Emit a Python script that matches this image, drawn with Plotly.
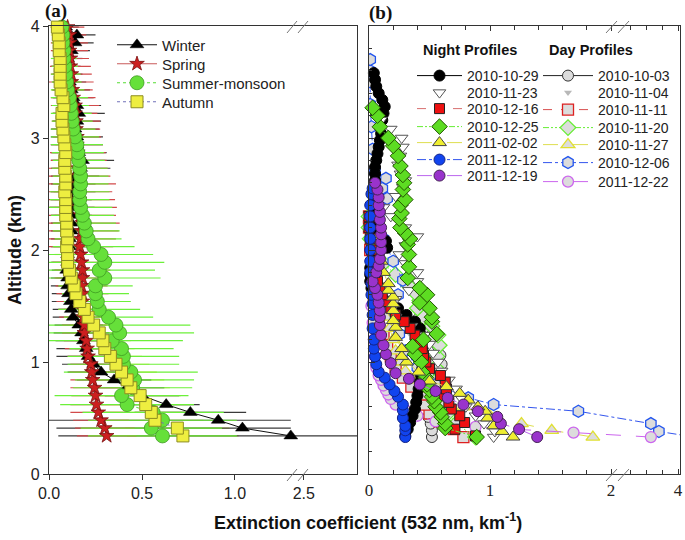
import plotly.graph_objects as go

# ---------------- Panel (a): seasonal mean profiles ----------------
ALT_A = [0.34, 0.41, 0.48, 0.55, 0.62, 0.70, 0.77, 0.84, 0.91, 0.98,
         1.05, 1.12, 1.19, 1.26, 1.33, 1.40, 1.47, 1.54, 1.61, 1.68,
         1.75, 1.82, 1.89, 1.96, 2.03, 2.10, 2.17, 2.24, 2.31, 2.38,
         2.45, 2.52, 2.59, 2.66, 2.73, 2.80, 2.87, 2.94, 3.01, 3.08,
         3.15, 3.22, 3.29, 3.36, 3.43, 3.50, 3.57, 3.64, 3.71, 3.78,
         3.85, 3.92, 3.99]

WINTER = [2.30, 1.04, 0.91, 0.76, 0.63, 0.50, 0.42, 0.35, 0.28, 0.24,
          0.21, 0.20, 0.185, 0.175, 0.16, 0.13, 0.12, 0.115, 0.105, 0.10,
          0.10, 0.095, 0.10, 0.10, 0.11, 0.11, 0.12, 0.12, 0.12, 0.125,
          0.12, 0.13, 0.13, 0.14, 0.17, 0.18, 0.16, 0.15, 0.15, 0.14,
          0.15, 0.16, 0.15, 0.13, 0.12, 0.11, 0.10, 0.09, 0.10, 0.12,
          0.14, 0.15, 0.09]
WINTER_ERR = [2.25, 1.00, 0.95, 0.30, 0.18, 0.20, 0.20, 0.20, 0.18, 0.17,
              0.17, 0.16, 0.15, 0.15, 0.13, 0.11, 0.10, 0.10, 0.09, 0.09,
              0.09, 0.08, 0.09, 0.09, 0.10, 0.10, 0.11, 0.11, 0.11, 0.12,
              0.11, 0.12, 0.12, 0.13, 0.16, 0.17, 0.15, 0.14, 0.14, 0.13,
              0.13, 0.14, 0.13, 0.11, 0.10, 0.09, 0.08, 0.08, 0.08, 0.10,
              0.10, 0.10, 0.07]

SPRING = [0.31, 0.30, 0.28, 0.265, 0.255, 0.25, 0.245, 0.235, 0.23, 0.225,
          0.21, 0.205, 0.20, 0.19, 0.19, 0.185, 0.18, 0.18, 0.18, 0.175,
          0.18, 0.18, 0.175, 0.17, 0.165, 0.17, 0.175, 0.18, 0.17, 0.165,
          0.165, 0.16, 0.16, 0.16, 0.155, 0.16, 0.155, 0.15, 0.15, 0.145,
          0.145, 0.14, 0.14, 0.13, 0.125, 0.12, 0.12, 0.115, 0.115, 0.11,
          0.11, 0.11, 0.10]
SPRING_ERR = [0.16, 0.16, 0.15, 0.15, 0.14, 0.13, 0.13, 0.12, 0.12, 0.11,
              0.11, 0.12, 0.12, 0.12, 0.12, 0.13, 0.13, 0.14, 0.14, 0.14,
              0.15, 0.15, 0.16, 0.17, 0.18, 0.19, 0.20, 0.20, 0.19, 0.20,
              0.19, 0.18, 0.20, 0.17, 0.16, 0.15, 0.15, 0.14, 0.13, 0.13,
              0.13, 0.12, 0.13, 0.12, 0.11, 0.12, 0.11, 0.11, 0.10, 0.10,
              0.10, 0.09, 0.09]

SUMMER = [0.61, 0.55, 0.61, 0.56, 0.42, 0.39, 0.45, 0.46, 0.44, 0.40,
          0.40, 0.39, 0.34, 0.38, 0.36, 0.32, 0.27, 0.26, 0.25, 0.25,
          0.30, 0.27, 0.30, 0.28, 0.24, 0.21, 0.20, 0.19, 0.18, 0.17,
          0.165, 0.165, 0.17, 0.17, 0.165, 0.16, 0.155, 0.15, 0.14, 0.13,
          0.125, 0.12, 0.115, 0.11, 0.10, 0.095, 0.09, 0.085, 0.08, 0.08,
          0.075, 0.075, 0.07]
SUMMER_ERR = [0.40, 0.38, 0.40, 0.38, 0.36, 0.36, 0.32, 0.32, 0.36, 0.30,
              0.30, 0.28, 0.38, 0.40, 0.40, 0.24, 0.22, 0.18, 0.18, 0.20,
              0.30, 0.30, 0.32, 0.28, 0.22, 0.18, 0.18, 0.17, 0.17, 0.17,
              0.16, 0.16, 0.15, 0.15, 0.15, 0.14, 0.14, 0.14, 0.13, 0.12,
              0.11, 0.11, 0.10, 0.10, 0.09, 0.08, 0.08, 0.07, 0.07, 0.06,
              0.06, 0.05, 0.05]

AUTUMN = [0.72, 0.69, 0.57, 0.55, 0.52, 0.49, 0.44, 0.42, 0.39, 0.36,
          0.33, 0.30, 0.29, 0.27, 0.24, 0.21, 0.19, 0.165, 0.145, 0.135,
          0.12, 0.11, 0.10, 0.10, 0.095, 0.10, 0.095, 0.095, 0.09, 0.09,
          0.09, 0.085, 0.09, 0.09, 0.085, 0.085, 0.09, 0.085, 0.08, 0.075,
          0.07, 0.07, 0.08, 0.075, 0.065, 0.06, 0.06, 0.06, 0.06, 0.055,
          0.055, 0.05, 0.045]
AUTUMN_ERR = [0.30, 0.28, 0.26, 0.25, 0.24, 0.22, 0.21, 0.20, 0.19, 0.18,
              0.17, 0.16, 0.15, 0.14, 0.13, 0.12, 0.11, 0.10, 0.09, 0.09,
              0.08, 0.08, 0.08, 0.07, 0.07, 0.07, 0.07, 0.07, 0.06, 0.06,
              0.06, 0.06, 0.06, 0.06, 0.06, 0.06, 0.06, 0.05, 0.05, 0.05,
              0.05, 0.05, 0.05, 0.05, 0.05, 0.04, 0.04, 0.04, 0.04, 0.04,
              0.04, 0.04, 0.04]

TICKS_A = [0.0, 0.5, 1.0, 2.5]
TICKTEXT_A = ["0.0", "0.5", "1.0", "2.5"]
ALT_TICKS = [0, 1, 2, 3, 4]

# ---------------- Panel (b): individual profiles ----------------
N1029_ALT = [0.34, 0.40, 0.46, 0.52, 0.58, 0.64, 0.70, 0.76, 0.82, 0.88,
             0.94, 1.00, 1.06, 1.12, 1.18, 1.24, 1.30, 1.36, 1.42, 1.48,
             1.54, 1.60, 1.66, 1.72, 1.78, 1.84, 1.90, 1.96, 2.02, 2.08,
             2.14, 2.20, 2.26, 2.32, 2.38, 2.44, 2.50, 2.56, 2.62, 2.68,
             2.74, 2.80, 2.86, 2.92, 2.98, 3.04, 3.10, 3.16, 3.22, 3.28,
             3.34, 3.40, 3.46, 3.52, 3.58]
N1029_EXT = [0.30, 0.32, 0.34, 0.36, 0.38, 0.39, 0.40, 0.41, 0.42, 0.43,
             0.44, 0.45, 0.45, 0.44, 0.44, 0.43, 0.42, 0.38, 0.31, 0.24,
             0.15, 0.08, 0.02, 0.01, 0.01, 0.01, 0.02, 0.08, 0.15, 0.14,
             0.06, 0.04, 0.04, 0.04, 0.05, 0.05, 0.04, 0.05, 0.05, 0.05,
             0.05, 0.06, 0.07, 0.08, 0.09, 0.10, 0.09, 0.11, 0.12, 0.13,
             0.11, 0.08, 0.06, 0.05, 0.04]

N1123_ALT = [0.33, 0.38, 0.45, 0.52, 0.60, 0.68, 0.76, 0.84, 0.92, 1.00,
             1.08, 1.16, 1.24, 1.32, 1.40, 1.48, 1.56, 1.64, 1.72, 1.80,
             1.88, 1.96, 2.04, 2.12, 2.20, 2.30, 2.38, 2.48, 2.56, 2.62,
             2.68, 2.76, 2.84, 2.92, 3.00, 3.08, 3.16]
N1123_EXT = [1.03, 1.04, 0.95, 0.88, 0.80, 0.76, 0.72, 0.66, 0.60, 0.57,
             0.53, 0.50, 0.46, 0.35, 0.22, 0.19, 0.22, 0.33, 0.40, 0.40,
             0.30, 0.25, 0.30, 0.40, 0.30, 0.18, 0.12, 0.22, 0.28, 0.30,
             0.26, 0.24, 0.26, 0.28, 0.27, 0.18, 0.10]

N1216_ALT = [0.34, 0.40, 0.46, 0.52, 0.58, 0.64, 0.70, 0.76, 0.82, 0.88,
             0.94, 1.00, 1.06, 1.12, 1.18, 1.24, 1.30, 1.36, 1.42, 1.48,
             1.54, 1.60, 1.66, 1.72, 1.80, 1.90, 2.00, 2.10, 2.20, 2.30]
N1216_EXT = [0.88, 0.71, 0.79, 0.75, 0.68, 0.66, 0.62, 0.64, 0.63, 0.59,
             0.50, 0.47, 0.45, 0.44, 0.41, 0.38, 0.34, 0.29, 0.22, 0.18,
             0.14, 0.11, 0.09, 0.07, 0.05, 0.03, 0.02, 0.01, 0.00, 0.00]

N1225_ALT = [0.33, 0.41, 0.45, 0.51, 0.55, 0.60, 0.65, 0.69, 0.75, 0.80,
             0.86, 0.91, 1.00, 1.07, 1.14, 1.20, 1.25, 1.36, 1.40, 1.48,
             1.53, 1.60, 1.66, 1.75, 1.85, 1.96, 2.05, 2.10, 2.15, 2.20,
             2.28, 2.33, 2.40, 2.45, 2.54, 2.60, 2.67, 2.75, 2.84, 2.93,
             3.00, 3.10, 3.20, 3.27]
N1225_EXT = [0.89, 0.63, 0.63, 0.60, 0.59, 0.55, 0.54, 0.52, 0.50, 0.48,
             0.47, 0.44, 0.43, 0.38, 0.36, 0.45, 0.56, 0.52, 0.52, 0.50,
             0.42, 0.48, 0.42, 0.32, 0.33, 0.33, 0.32, 0.34, 0.30, 0.26,
             0.25, 0.27, 0.26, 0.30, 0.28, 0.29, 0.28, 0.26, 0.24, 0.20,
             0.16, 0.09, 0.07, 0.03]

N0202_ALT = [0.33, 0.38, 0.43, 0.50, 0.56, 0.60, 0.66, 0.72, 0.78, 0.83,
             0.91, 1.00, 1.05, 1.12, 1.22, 1.31, 1.37, 1.46, 1.52, 1.58,
             1.64, 1.70, 1.80, 1.90, 2.00, 2.10]
N0202_EXT = [1.19, 1.10, 1.03, 0.98, 0.96, 0.90, 0.82, 0.75, 0.64, 0.50,
             0.41, 0.31, 0.27, 0.27, 0.22, 0.22, 0.20, 0.20, 0.20, 0.20,
             0.16, 0.16, 0.12, 0.10, 0.08, 0.06]

N1212_ALT = [0.33, 0.39, 0.43, 0.50, 0.57, 0.62, 0.69, 0.74, 0.80, 0.86,
             0.91, 0.98, 1.05, 1.12, 1.20, 1.30, 1.42, 1.52, 1.60, 1.70,
             1.80, 1.90, 2.00, 2.10, 2.20, 2.30, 2.40, 2.50, 2.55]
N1212_EXT = [0.30, 0.30, 0.30, 0.28, 0.28, 0.28, 0.24, 0.21, 0.17, 0.13,
             0.08, 0.06, 0.05, 0.04, 0.04, 0.03, 0.03, 0.03, 0.02, 0.02,
             0.01, 0.01, 0.01, 0.01, 0.01, 0.01, 0.01, 0.02, 0.03]

N1219_ALT = [0.33, 0.40, 0.45, 0.51, 0.56, 0.62, 0.68, 0.74, 0.80, 0.85,
             0.90, 0.99, 1.07, 1.15, 1.24, 1.33, 1.40, 1.46, 1.53, 1.60,
             1.66, 1.72, 1.80, 1.86, 1.92, 2.00, 2.07, 2.14, 2.20, 2.27,
             2.34, 2.40, 2.47, 2.54, 2.60]
N1219_EXT = [1.39, 1.24, 1.09, 1.06, 0.90, 0.78, 0.65, 0.55, 0.42, 0.33,
             0.22, 0.18, 0.14, 0.12, 0.10, 0.09, 0.09, 0.09, 0.08, 0.07,
             0.05, 0.03, 0.06, 0.08, 0.09, 0.10, 0.10, 0.10, 0.10, 0.09,
             0.09, 0.08, 0.08, 0.07, 0.05]

D1003_ALT = [0.33, 0.39, 0.45, 0.51, 0.58, 0.66, 0.74, 0.82, 0.90, 0.98,
             1.06, 1.14, 1.22, 1.30, 1.38]
D1003_EXT = [0.52, 0.52, 0.51, 0.49, 0.50, 0.52, 0.54, 0.56, 0.58, 0.60,
             0.59, 0.57, 0.52, 0.45, 0.40]

D1104_ALT = [0.36, 0.46, 0.56, 0.66, 0.76, 0.86, 0.96, 1.06, 1.16, 1.26]
D1104_EXT = [0.75, 0.70, 0.62, 0.55, 0.50, 0.46, 0.42, 0.40, 0.36, 0.33]

D1111_ALT = [0.33, 0.40, 0.47, 0.54, 0.62, 0.71, 0.78, 0.86, 0.95, 1.05,
             1.15, 1.25, 1.40, 1.60, 1.80, 2.00, 2.20, 2.30]
D1111_EXT = [0.78, 0.70, 0.58, 0.50, 0.46, 0.45, 0.35, 0.28, 0.22, 0.18,
             0.15, 0.12, 0.08, 0.04, 0.02, 0.01, 0.00, 0.00]

D1120_ALT = [0.33, 0.45, 0.55, 0.65, 0.75, 0.85, 0.95, 1.05, 1.15, 1.24,
             1.32, 1.40, 1.48, 1.55, 1.62, 1.69, 1.78, 1.88, 1.98, 2.10,
             2.20, 2.30]
D1120_EXT = [0.88, 0.72, 0.66, 0.62, 0.60, 0.57, 0.55, 0.56, 0.58, 0.57,
             0.52, 0.45, 0.40, 0.42, 0.38, 0.32, 0.22, 0.12, 0.04, 0.01,
             0.00, 0.00]

D1127_ALT = [0.33, 0.39, 0.45, 0.52, 0.60, 0.68, 0.76, 0.84, 0.92, 1.00,
             1.10, 1.20, 1.30, 1.40, 1.50, 1.60]
D1127_EXT = [1.85, 1.51, 1.26, 1.00, 0.78, 0.58, 0.45, 0.36, 0.30, 0.26,
             0.22, 0.20, 0.17, 0.14, 0.12, 0.10]

D1206_ALT = [0.33, 0.38, 0.45, 0.56, 0.62, 0.68, 0.80, 0.95, 1.10, 1.25,
             1.40, 1.60, 1.73, 1.90, 2.10, 2.30, 2.46, 2.55, 2.64, 2.70,
             2.90, 3.10, 3.30, 3.50, 3.60, 3.70]
D1206_EXT = [4.50, 3.40, 3.15, 1.73, 1.03, 0.82, 0.55, 0.40, 0.30, 0.25,
             0.22, 0.24, 0.28, 0.20, 0.12, 0.08, 0.15, 0.11, 0.14, 0.05,
             0.03, 0.02, 0.01, 0.01, 0.01, 0.01]

D1222_ALT = [0.33, 0.37, 0.42, 0.47, 0.52, 0.57, 0.62, 0.67, 0.71, 0.75,
             0.79, 0.84, 0.88, 0.95, 1.05, 1.20, 1.35, 1.50]
D1222_EXT = [3.15, 1.69, 0.88, 0.55, 0.40, 0.30, 0.22, 0.18, 0.16, 0.14,
             0.12, 0.10, 0.08, 0.06, 0.05, 0.04, 0.03, 0.02]

TICKS_B = [0, 1, 2, 4]
TICKTEXT_B = ["0", "1", "2", "4"]
MINOR_B = [0.2, 0.4, 0.6, 0.8, 1.2, 1.4, 1.6, 1.8, 2.5, 3.0, 3.5]


# ---------------- broken-axis scales ----------------
def pos_a(v):
    """Panel (a): linear to 1.3, gap, then compressed segment around 2.5."""
    if v <= 1.30:
        return v
    if v <= 2.30:
        return 1.30
    return 1.30 + (v - 2.30) * 0.35


def pos_b(v):
    """Panel (b): linear to ~2, gap, then compressed segment up to 4."""
    if v <= 2.05:
        return v
    return max(2.05, 2.157 + (v - 2.5) * 0.265)


# ---------------- geometry helpers (pixels -> paper) ----------------
L, T, PW, PH = 49, 26, 631, 448


def px(x):
    return (x - L) / PW


def py(y):
    return (T + PH - y) / PH


SANS = "Liberation Sans, Arial, sans-serif"
SERIF = "Liberation Serif, Times New Roman, serif"

fig = go.Figure()
legends = {}
legend_count = [0]


def new_legend(text_x, row_y, itemwidth, size):
    legend_count[0] += 1
    k = legend_count[0]
    name = "legend" if k == 1 else "legend%d" % k
    legends[name] = dict(
        x=px(text_x - itemwidth - 10), y=py(row_y),
        xanchor="left", yanchor="middle",
        bgcolor="rgba(0,0,0,0)", borderwidth=0,
        itemwidth=itemwidth, tracegroupgap=0,
        font=dict(family=SANS, size=size, color="#222"),
    )
    return name


# ---------- panel (a) error bars (drawn first, clipped) ----------
err_specs = [
    (AUTUMN, AUTUMN_ERR, "#d8ea55"),
    (WINTER, WINTER_ERR, "#3a3a3a"),
    (SPRING, SPRING_ERR, "#d24a4a"),
    (SUMMER, SUMMER_ERR, "#6cf03a"),
]
for vals, errs, col in err_specs:
    xs = [pos_a(v) for v in vals]
    plus = [pos_a(v + e) - pos_a(v) for v, e in zip(vals, errs)]
    minus = [pos_a(v) - pos_a(v - e) for v, e in zip(vals, errs)]
    fig.add_trace(go.Scatter(
        x=xs, y=ALT_A, mode="markers", xaxis="x", yaxis="y",
        marker=dict(size=1, color="rgba(0,0,0,0)"),
        error_x=dict(type="data", array=plus, arrayminus=minus,
                     color=col, thickness=1.2, width=0),
        showlegend=False, hoverinfo="skip", cliponaxis=True,
    ))

# ---------- panel (a) profiles ----------
season_specs = [
    ("Winter", WINTER, dict(symbol="triangle-up", size=12, color="#000000",
                             line=dict(color="#000000", width=0.5)),
     dict(color="#111111", width=1, dash="solid")),
    ("Spring", SPRING, dict(symbol="star", size=11, color="#cc1f1f",
                             line=dict(color="#7a1010", width=0.8)),
     dict(color="#c85a5a", width=1, dash="solid")),
    ("Summer-monsoon", SUMMER, dict(symbol="circle", size=14, color="#66e03a",
                                     line=dict(color="#3f9a22", width=0.8)),
     dict(color="#55dd33", width=1, dash="dot")),
    ("Autumn", AUTUMN, dict(symbol="square", size=12, color="#eeee40",
                             line=dict(color="#8c8c20", width=1)),
     dict(color="#7070b8", width=1, dash="dot")),
]
left_rows = [45, 64, 83, 102]
for (name, vals, mk, ln), ry in zip(season_specs, left_rows):
    lg = new_legend(162, ry, 40, 15)
    fig.add_trace(go.Scatter(
        x=[pos_a(v) for v in vals], y=ALT_A, mode="lines+markers",
        name=name, marker=mk, line=ln, xaxis="x", yaxis="y",
        legend=lg, cliponaxis=False,
    ))

# ---------- panel (b) ----------
GREY = "#dcdcdc"
DDOT = "6px,2px,2px,2px,2px,2px"
day_specs = [
    ("2010-10-03", D1003_ALT, D1003_EXT,
     dict(symbol="circle", size=11, color=GREY, line=dict(color="#333333", width=1)),
     dict(color="#222222", width=1, dash="solid"), "lines+markers"),
    ("2010-11-04", D1104_ALT, D1104_EXT,
     dict(symbol="triangle-down", size=7, color="#b8b8b8", line=dict(width=0)),
     None, "markers"),
    ("2010-11-11", D1111_ALT, D1111_EXT,
     dict(symbol="square", size=11, color=GREY, line=dict(color="#dd2020", width=1.3)),
     dict(color="#d85050", width=1, dash="dash"), "lines+markers"),
    ("2010-11-20", D1120_ALT, D1120_EXT,
     dict(symbol="diamond", size=12, color=GREY, line=dict(color="#66ee33", width=1.3)),
     dict(color="#66ee33", width=1, dash=DDOT), "lines+markers"),
    ("2010-11-27", D1127_ALT, D1127_EXT,
     dict(symbol="triangle-up", size=12, color=GREY, line=dict(color="#e0e030", width=1.3)),
     dict(color="#dede50", width=1, dash="longdash"), "lines+markers"),
    ("2010-12-06", D1206_ALT, D1206_EXT,
     dict(symbol="hexagon", size=12, color=GREY, line=dict(color="#2255ee", width=1.3)),
     dict(color="#3355ee", width=1, dash="dashdot"), "lines+markers"),
    ("2011-12-22", D1222_ALT, D1222_EXT,
     dict(symbol="circle", size=11, color=GREY, line=dict(color="#cc66ee", width=1.3)),
     dict(color="#cc66ee", width=1, dash="longdash"), "lines+markers"),
]
night_specs = [
    ("2010-10-29", N1029_ALT, N1029_EXT,
     dict(symbol="circle", size=11, color="#000000", line=dict(color="#000000", width=1)),
     dict(color="#000000", width=1, dash="solid"), "lines+markers"),
    ("2010-11-23", N1123_ALT, N1123_EXT,
     dict(symbol="triangle-down", size=11, color="#ffffff", line=dict(color="#555555", width=1)),
     None, "markers"),
    ("2010-12-16", N1216_ALT, N1216_EXT,
     dict(symbol="square", size=10, color="#ee1111", line=dict(color="#222222", width=1)),
     dict(color="#d87070", width=1, dash="dash"), "lines+markers"),
    ("2010-12-25", N1225_ALT, N1225_EXT,
     dict(symbol="diamond", size=12, color="#5ddc22", line=dict(color="#225500", width=1)),
     dict(color="#66ee33", width=1, dash=DDOT), "lines+markers"),
    ("2011-02-02", N0202_ALT, N0202_EXT,
     dict(symbol="triangle-up", size=12, color="#eeee30", line=dict(color="#444444", width=1)),
     dict(color="#dede50", width=1, dash="longdash"), "lines+markers"),
    ("2011-12-12", N1212_ALT, N1212_EXT,
     dict(symbol="circle", size=11, color="#1144ee", line=dict(color="#112288", width=1)),
     dict(color="#3355ee", width=1, dash="dashdot"), "lines+markers"),
    ("2011-12-19", N1219_ALT, N1219_EXT,
     dict(symbol="circle", size=11, color="#9933cc", line=dict(color="#442255", width=1)),
     dict(color="#bb66ee", width=1, dash="longdash"), "lines+markers"),
]
day_rows = [76, 93, 110, 128, 145, 163, 182]
night_rows = [76, 93, 109, 127, 143, 160, 176]


def add_profile(spec, text_x, ry, itemwidth):
    name, alts, exts, mk, ln, mode = spec
    lg = new_legend(text_x, ry, itemwidth, 14)
    kw = dict(x=[pos_b(v) for v in exts], y=alts, mode=mode, name=name,
              marker=mk, xaxis="x2", yaxis="y2", legend=lg,
              cliponaxis=max(exts) > 4.05)
    if ln is not None:
        kw["line"] = ln
    fig.add_trace(go.Scatter(**kw))


for spec, ry in zip(day_specs, day_rows):
    add_profile(spec, 598, ry, 50)
for spec, ry in zip(night_specs, night_rows):
    add_profile(spec, 467, ry, 45)

# ---------------- axes ----------------
axcol = "#333333"
fig.update_layout(
    xaxis=dict(domain=[0, 308 / PW], range=[0, 1.656], anchor="y",
               tickvals=[pos_a(t) for t in TICKS_A], ticktext=TICKTEXT_A,
               ticks="outside", ticklen=5, tickcolor=axcol,
               showline=True, linecolor=axcol, linewidth=1.3, mirror=True,
               showgrid=False, zeroline=False, automargin=False,
               tickfont=dict(family=SANS, size=16, color="#222")),
    yaxis=dict(domain=[0, 1], range=[0, 4], anchor="x",
               tickvals=ALT_TICKS, ticks="outside", ticklen=5, tickcolor=axcol,
               showline=True, linecolor=axcol, linewidth=1.3, mirror=True,
               showgrid=False, zeroline=False, automargin=False,
               tickfont=dict(family=SANS, size=16, color="#222")),
    xaxis2=dict(domain=[320 / PW, 1], range=[0, 2.570], anchor="y2",
                tickvals=[pos_b(t) for t in TICKS_B], ticktext=TICKTEXT_B,
                ticks="inside", ticklen=5, tickcolor=axcol,
                minor=dict(tickvals=[pos_b(t) for t in MINOR_B], ticks="inside",
                           ticklen=4, tickcolor=axcol),
                showline=True, linecolor=axcol, linewidth=1.3, mirror="allticks",
                showgrid=False, zeroline=False, automargin=False,
                tickfont=dict(family=SERIF, size=17, color="#222")),
    yaxis2=dict(domain=[0, 1], range=[0, 4], anchor="x2",
                tickvals=ALT_TICKS, ticks="inside", ticklen=6, tickcolor=axcol,
                minor=dict(dtick=0.2, ticks="inside", ticklen=3, tickcolor=axcol),
                showticklabels=False, automargin=False,
                showline=True, linecolor=axcol, linewidth=1.3, mirror=True,
                showgrid=False, zeroline=False),
)

# ---------------- break marks ----------------
shapes = []
for (x0, x1, yb) in [(287, 297, 475), (298, 308, 475), (287, 297, 27), (298, 308, 27),
                     (606, 617, 475), (618, 629, 475), (606, 617, 27), (618, 629, 27)]:
    shapes.append(dict(type="line", xref="paper", yref="paper",
                       x0=px(x0), y0=py(yb + 6), x1=px(x1), y1=py(yb - 6),
                       line=dict(color="#777777", width=1)))


def note(text, x, y, size, family=SANS, angle=0):
    return dict(text=text, x=px(x), y=py(y), xref="paper", yref="paper",
                xanchor="center", yanchor="middle", textangle=angle,
                showarrow=False, font=dict(family=family, size=size, color="#111"))


annotations = [
    note("<b>(a)</b>", 56, 11, 19, SERIF),
    note("<b>(b)</b>", 380, 13, 19, SERIF),
    note("<b>Altitude (km)</b>", 15, 250, 18, SANS, -90),
    note("<b>Extinction coefficient (532 nm, km<sup>-1</sup>)</b>", 368, 521, 18),
    note("<b>Night Profiles</b>", 470, 50, 14.5),
    note("<b>Day Profiles</b>", 591, 50, 14.5),
]

fig.update_layout(
    width=685, height=540,
    margin=dict(l=L, r=685 - L - PW, t=T, b=540 - T - PH, autoexpand=False),
    paper_bgcolor="white", plot_bgcolor="white",
    showlegend=True, shapes=shapes, annotations=annotations,
    **legends,
)

fig.write_html("out.html", config={"displayModeBar": False},
               post_script="document.body.style.margin='0px';document.body.style.padding='0px';")
